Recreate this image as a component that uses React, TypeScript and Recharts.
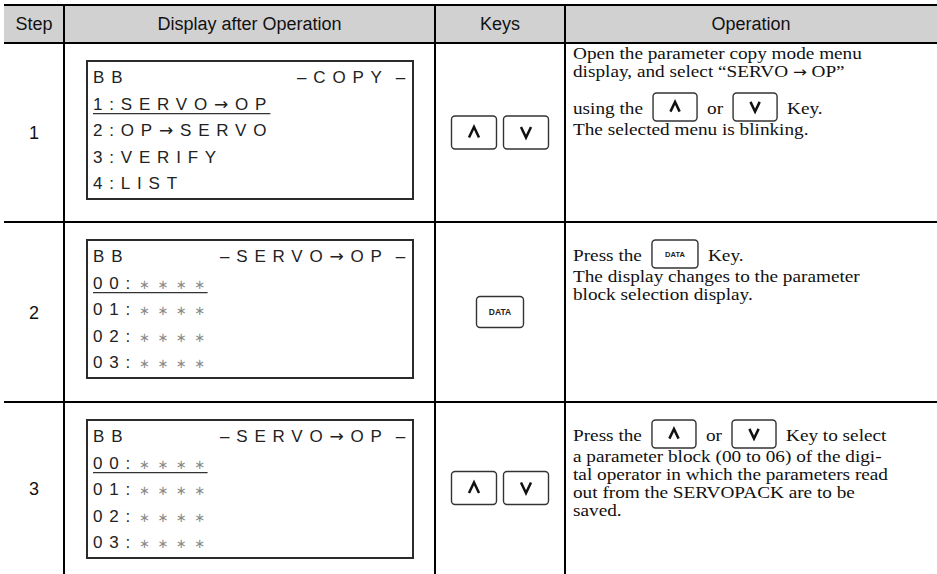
import React from "react";
import { ComposedChart, XAxis, YAxis, Customized } from "recharts";

const WIDTH = 937;
const HEIGHT = 574;

// table content
const headers = ["Step", "Display after Operation", "Keys", "Operation"];
const steps = ["1", "2", "3"];
const displayTitles = ["–COPY–", "–SERVO→OP–", "–SERVO→OP–"];
const displayLines = [
  ["1:SERVO→OP", "2:OP→SERVO", "3:VERIFY", "4:LIST"],
  ["00:****", "01:****", "02:****", "03:****"],
  ["00:****", "01:****", "02:****", "03:****"],
];
const stepKeys = [["up", "down"], ["data"], ["up", "down"]];
const operationText = [
  [
    "Open the parameter copy mode menu",
    "display, and select “SERVO → OP”",
    "using the [up] or [down] Key.",
    "The selected menu is blinking.",
  ],
  ["Press the [data] Key.", "The display changes to the parameter", "block selection display."],
  [
    "Press the [up] or [down] Key to select",
    "a parameter block (00 to 06) of the digi-",
    "tal operator in which the parameters read",
    "out from the SERVOPACK are to be",
    "saved.",
  ],
];

// layout
const colX = [4, 64, 435, 565, WIDTH];
const rowY = [5, 43, 222, 402, HEIGHT];
const SANS = "'Liberation Sans', Arial, sans-serif";
const SERIF = "'Liberation Serif', 'Times New Roman', serif";
const ARROW = "'DejaVu Sans', sans-serif";
const OP_SIZE = 17.5;
const OP_STRETCH = 1.1;
const LCD_SIZE = 17;
const LCD_SPACING = 6.8;
const GAP = 10;
const KEY_RE = /\[(up|down|data)\]/;

const canvas = typeof document !== "undefined" ? document.createElement("canvas") : null;
function textWidth(text: string, font: string, spacing = 0) {
  const ctx = canvas?.getContext("2d");
  if (!ctx) return text.length * 9;
  ctx.font = font;
  return ctx.measureText(text).width + spacing * [...text].length;
}

// split a string so arrows can use a font with a wider glyph
function runs(text: string) {
  return text.split(/(→)/).filter((t) => t.length > 0);
}

function KeyCap({ kind, x, y, w, h }: { kind: string; x: number; y: number; w: number; h: number }) {
  const cx = x + w / 2;
  const cy = y + h / 2;
  const a = h > 29 ? 5 : 4.6;
  return (
    <g>
      <rect x={x} y={y} width={w} height={h} rx={3.5} fill="#fff" stroke="#333" strokeWidth={1.4} />
      {kind === "data" ? (
        <text x={cx} y={cy + 3} textAnchor="middle" fontFamily={SANS} fontSize={h > 29 ? 8.5 : 7.5} fontWeight="bold" fill="#222">
          DATA
        </text>
      ) : (
        <path
          d={
            kind === "up"
              ? `M${cx - a},${cy + a} L${cx},${cy - a - 0.5} L${cx + a},${cy + a}`
              : `M${cx - a},${cy - a - 0.5} L${cx},${cy + a} L${cx + a},${cy - a - 0.5}`
          }
          fill="none"
          stroke="#111"
          strokeWidth={2.5}
        />
      )}
    </g>
  );
}

function OpText({ text, x, y }: { text: string; x: number; y: number }) {
  return (
    <g transform={`translate(${x},${y}) scale(${OP_STRETCH},1)`}>
      <text x={0} y={0} fontFamily={SERIF} fontSize={OP_SIZE} fill="#111">
        {runs(text).map((r, i) =>
          r === "→" ? (
            <tspan key={i} fontFamily={ARROW} fontSize={15}>
              {r}
            </tspan>
          ) : (
            <tspan key={i}>{r}</tspan>
          )
        )}
      </text>
    </g>
  );
}

function opWidth(text: string) {
  return (
    runs(text).reduce(
      (s, r) => s + (r === "→" ? textWidth(r, "15px 'DejaVu Sans'") : textWidth(r, `${OP_SIZE}px 'Liberation Serif'`)),
      0
    ) * OP_STRETCH
  );
}

function OperationLine({ line, x, baseline }: { line: string; x: number; baseline: number }) {
  const parts = line.split(KEY_RE);
  let cx = x;
  const out: React.ReactNode[] = [];
  parts.forEach((p, i) => {
    if (i % 2 === 1) {
      const w = p === "data" ? 46 : 44;
      out.push(<KeyCap key={i} kind={p} x={cx + GAP} y={baseline - 21} w={w} h={28} />);
      cx += GAP + w + GAP;
    } else {
      const t = p.trim();
      if (!t) return;
      out.push(<OpText key={i} text={t} x={cx} y={baseline} />);
      cx += opWidth(t);
    }
  });
  return <g>{out}</g>;
}

function lcdWidth(text: string) {
  return runs(text).reduce(
    (s, r) =>
      s +
      (r === "→"
        ? textWidth(r, `${LCD_SIZE}px 'DejaVu Sans'`, LCD_SPACING)
        : textWidth(r, `${LCD_SIZE}px 'Liberation Sans'`, LCD_SPACING)),
    0
  );
}

function lcdRuns(text: string) {
  return runs(text).map((r, i) =>
    r === "→" ? (
      <tspan key={i} fontFamily={ARROW}>
        {r}
      </tspan>
    ) : (
      <tspan key={i}>{r}</tspan>
    )
  );
}

function LcdLine({ text, x, y, underline }: { text: string; x: number; y: number; underline: boolean }) {
  const star = text.indexOf("*");
  const head = star >= 0 ? text.slice(0, star) : text;
  const stars = star >= 0 ? text.slice(star).replace(/\*/g, "∗") : "";
  let w = lcdWidth(head) - LCD_SPACING + 4;
  if (stars) w += LCD_SPACING - 2 + textWidth(stars, "13px 'DejaVu Sans'", 7.5) - 5;
  return (
    <g>
      <text x={x} y={y} fontFamily={SANS} fontSize={LCD_SIZE} letterSpacing={LCD_SPACING} fill="#222">
        {lcdRuns(head)}
        {stars && (
          <tspan dx={2} fontFamily={ARROW} fontSize={13} letterSpacing={7.5} fill="#8a8a8a">
            {stars}
          </tspan>
        )}
      </text>
      {underline && <line x1={x} x2={x + w} y1={y + 4} y2={y + 4} stroke="#333" strokeWidth={1.2} />}
    </g>
  );
}

function TableLayer() {
  return (
    <g>
      <rect x={colX[0]} y={rowY[0]} width={WIDTH - colX[0]} height={rowY[1] - rowY[0]} fill="#d1d1d1" />
      {headers.map((h, i) => (
        <text
          key={h}
          x={(colX[i] + colX[i + 1]) / 2}
          y={30}
          textAnchor="middle"
          fontFamily={SANS}
          fontSize={18}
          fill="#111"
        >
          {h}
        </text>
      ))}
      {rowY.slice(0, 4).map((y) => (
        <line key={y} x1={colX[0]} x2={WIDTH} y1={y} y2={y} stroke="#000" strokeWidth={2} />
      ))}
      {colX.slice(1, 4).map((x) => (
        <line key={x} x1={x} x2={x} y1={rowY[0]} y2={HEIGHT} stroke="#000" strokeWidth={2} />
      ))}
      {steps.map((s, r) => {
        const top = rowY[r + 1];
        const bottom = rowY[r + 2];
        const mid = (top + bottom) / 2;
        const boxTop = top + 18;
        const lcdLeft = 87;
        const lcdRight = 413;
        const keys = stepKeys[r];
        const keyW = keys.length > 1 ? 45 : 47;
        const keyH = keys.length > 1 ? 33 : 31;
        const keysWidth = keys.length * keyW + (keys.length - 1) * 7;
        const keyStart = (colX[2] + colX[3]) / 2 - keysWidth / 2;
        const title = displayTitles[r];

        // operation text baselines
        let prev = 0;
        const baselines = operationText[r].map((line, i) => {
          const hasKey = KEY_RE.test(line);
          let b: number;
          if (i === 0) b = hasKey ? top + 39 : top + 16;
          else if (hasKey) b = prev + 37;
          else if (KEY_RE.test(operationText[r][i - 1])) b = prev + 21;
          else b = prev + 18;
          prev = b;
          return b;
        });

        return (
          <g key={s}>
            <text x={(colX[0] + colX[1]) / 2} y={mid + 6.5} textAnchor="middle" fontFamily={SANS} fontSize={18} fill="#111">
              {s}
            </text>
            <rect x={lcdLeft} y={boxTop} width={lcdRight - lcdLeft} height={138} fill="#fff" stroke="#2b2b2b" strokeWidth={2} />
            <text
              x={lcdRight - 1}
              y={boxTop + 22}
              textAnchor="end"
              fontFamily={SANS}
              fontSize={LCD_SIZE}
              letterSpacing={LCD_SPACING}
              fill="#222"
            >
              {lcdRuns(title.slice(0, -1))}
              <tspan dx={7}>{title.slice(-1)}</tspan>
            </text>
            <text x={lcdLeft + 6} y={boxTop + 22} fontFamily={SANS} fontSize={LCD_SIZE} letterSpacing={LCD_SPACING} fill="#222">
              BB
            </text>
            {displayLines[r].map((l, i) => (
              <LcdLine key={i} text={l} x={lcdLeft + 6} y={boxTop + 22 + (i + 1) * 26.6} underline={i === 0} />
            ))}
            {keys.map((k, i) => (
              <KeyCap key={k + i} kind={k} x={keyStart + i * (keyW + 7)} y={mid - keyH / 2} w={keyW} h={keyH} />
            ))}
            {operationText[r].map((line, i) => (
              <OperationLine key={i} line={line} x={573} baseline={baselines[i]} />
            ))}
          </g>
        );
      })}
    </g>
  );
}

export default function App() {
  return (
    <div style={{ position: "absolute", left: 0, top: 0, width: WIDTH, height: HEIGHT, background: "#fff" }}>
      <ComposedChart width={WIDTH} height={HEIGHT} data={steps.map((s) => ({ step: s }))} margin={{ top: 0, right: 0, bottom: 0, left: 0 }}>
        <XAxis dataKey="step" hide />
        <YAxis hide />
        <Customized component={TableLayer} />
      </ComposedChart>
    </div>
  );
}
